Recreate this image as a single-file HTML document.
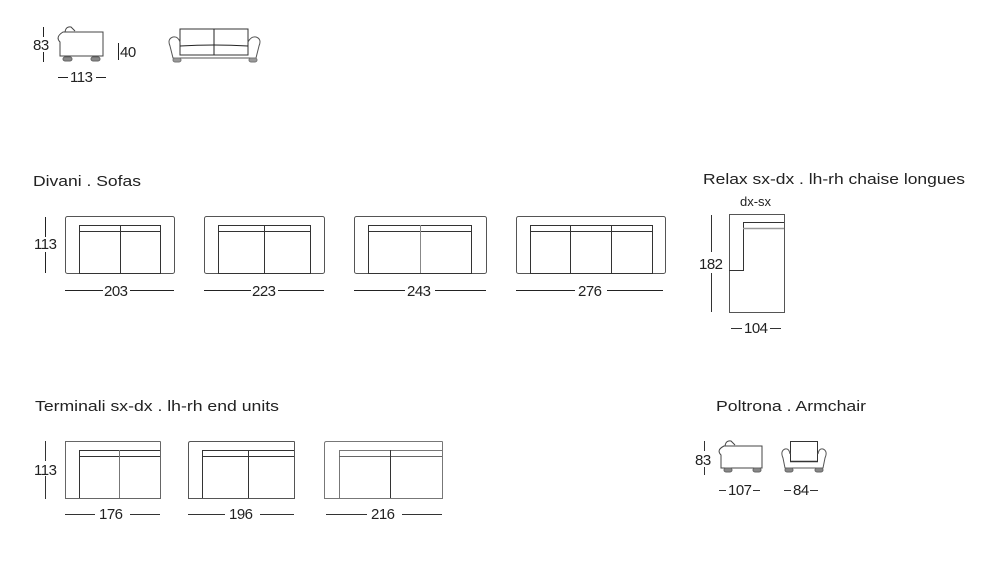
<!DOCTYPE html>
<html><head><meta charset="utf-8"><style>
html,body{margin:0;padding:0;background:#fff;}
svg{display:block;font-family:"Liberation Sans",sans-serif;}
</style></head><body>
<svg width="995" height="580" viewBox="0 0 995 580" xmlns="http://www.w3.org/2000/svg">
<g fill="#222" font-size="15">
<text x="33" y="186" textLength="108" lengthAdjust="spacingAndGlyphs">Divani . Sofas</text>
<text x="703" y="184" textLength="262" lengthAdjust="spacingAndGlyphs">Relax sx-dx . lh-rh chaise longues</text>
<text x="35" y="411" textLength="244" lengthAdjust="spacingAndGlyphs">Terminali sx-dx . lh-rh end units</text>
<text x="716" y="411" textLength="150" lengthAdjust="spacingAndGlyphs">Poltrona . Armchair</text>
</g>
<g fill="#222" font-size="15" letter-spacing="-0.5">
<text x="33" y="50">83</text>
<text x="120" y="57">40</text>
<text x="70" y="82">113</text>
<text x="34" y="249">113</text>
<text x="104" y="296">203</text>
<text x="252" y="296">223</text>
<text x="407" y="296">243</text>
<text x="578" y="296">276</text>
<text x="740" y="206" font-size="13" letter-spacing="0">dx-sx</text>
<text x="699" y="269">182</text>
<text x="744" y="333">104</text>
<text x="34" y="475">113</text>
<text x="99" y="519">176</text>
<text x="229" y="519">196</text>
<text x="371" y="519">216</text>
<text x="695" y="465">83</text>
<text x="728" y="495">107</text>
<text x="793" y="495">84</text>
</g>
<g stroke="#222" stroke-width="1" fill="none">
<line x1="43.5" y1="27" x2="43.5" y2="37"/><line x1="43.5" y1="52" x2="43.5" y2="62"/>
<line x1="118.5" y1="43" x2="118.5" y2="60"/>
<line x1="58" y1="77.5" x2="68" y2="77.5"/><line x1="96" y1="77.5" x2="106" y2="77.5"/>
<path d="M63 32 H103 V56 H60 V42 Q55 37 63 32 Z" stroke="#444"/>
<path d="M65 32 Q66 26 71 27 L75 31" stroke="#444"/>
<rect x="63" y="57" width="9" height="4" rx="2" fill="#888" stroke="#666"/>
<rect x="91" y="57" width="9" height="4" rx="2" fill="#888" stroke="#666"/>
<rect x="180" y="29" width="68" height="26" stroke="#333"/>
<line x1="214" y1="29" x2="214" y2="55"/>
<path d="M180 46 Q214 44 248 46" />
<path d="M180 42 Q178 36 173 37 Q167 39 170 46 L173 58 H256 L259 46 Q262 39 256 37 Q251 36 248 42" stroke="#555"/>
<rect x="173" y="58" width="8" height="4" rx="2" fill="#999" stroke="#777"/>
<rect x="249" y="58" width="8" height="4" rx="2" fill="#999" stroke="#777"/>
<line x1="45.5" y1="217" x2="45.5" y2="237"/><line x1="45.5" y1="252" x2="45.5" y2="273"/>
<line x1="65" y1="290.5" x2="103" y2="290.5"/><line x1="130" y1="290.5" x2="174" y2="290.5"/>
<line x1="204" y1="290.5" x2="251" y2="290.5"/><line x1="278" y1="290.5" x2="324" y2="290.5"/>
<line x1="354" y1="290.5" x2="405" y2="290.5"/><line x1="435" y1="290.5" x2="486" y2="290.5"/>
<line x1="516" y1="290.5" x2="575" y2="290.5"/><line x1="607" y1="290.5" x2="663" y2="290.5"/>
</g>
<g stroke="#333" stroke-width="1" fill="none">
<rect x="65.5" y="216.5" width="109" height="57" rx="2" stroke="#555"/>
<rect x="79.5" y="225.5" width="81" height="48"/><line x1="79" y1="231.5" x2="161" y2="231.5"/><line x1="120.5" y1="225" x2="120.5" y2="273"/>
<rect x="204.5" y="216.5" width="120" height="57" rx="2" stroke="#555"/>
<rect x="218.5" y="225.5" width="92" height="48"/><line x1="218" y1="231.5" x2="311" y2="231.5"/><line x1="264.5" y1="225" x2="264.5" y2="273"/>
<rect x="354.5" y="216.5" width="132" height="57" rx="2" stroke="#555"/>
<rect x="368.5" y="225.5" width="103" height="48"/><line x1="368" y1="231.5" x2="472" y2="231.5"/><line x1="420.5" y1="225" x2="420.5" y2="273" stroke="#888"/>
<rect x="516.5" y="216.5" width="149" height="57" rx="2" stroke="#555"/>
<rect x="530.5" y="225.5" width="122" height="48"/><line x1="530" y1="231.5" x2="653" y2="231.5"/><line x1="570.5" y1="225" x2="570.5" y2="273"/><line x1="611.5" y1="225" x2="611.5" y2="273"/>
<rect x="729.5" y="214.5" width="55" height="98" stroke="#555"/>
<path d="M784 222.5 H743.5 V270.5 H729"/>
<line x1="743" y1="228.5" x2="784" y2="228.5" stroke="#999" stroke-width="1.5"/>
<line x1="711.5" y1="215" x2="711.5" y2="252"/><line x1="711.5" y1="273" x2="711.5" y2="312"/>
<line x1="731" y1="328.5" x2="742" y2="328.5"/><line x1="770" y1="328.5" x2="781" y2="328.5"/>
<line x1="45.5" y1="441" x2="45.5" y2="461"/><line x1="45.5" y1="476" x2="45.5" y2="499"/>
<path d="M160.5 441.5 H65.5 V498.5 H160.5 V441.5" stroke="#666"/>
<path d="M160 450.5 H79.5 V498"/><line x1="79" y1="456.5" x2="160" y2="456.5"/><line x1="119.5" y1="450" x2="119.5" y2="498" stroke="#777"/>
<path d="M294.5 441.5 H190.5 Q188.5 441.5 188.5 443.5 V498.5 H294.5 V441.5" stroke="#555"/>
<path d="M294 450.5 H202.5 V498"/><line x1="202" y1="456.5" x2="294" y2="456.5"/><line x1="248.5" y1="450" x2="248.5" y2="498"/>
<path d="M442.5 441.5 H326.5 Q324.5 441.5 324.5 443.5 V498.5 H442.5 V441.5" stroke="#777"/>
<path d="M442 450.5 H339.5 V498" stroke="#777"/><line x1="339" y1="456.5" x2="442" y2="456.5" stroke="#666"/><line x1="390.5" y1="450" x2="390.5" y2="498"/>
<line x1="65" y1="514.5" x2="95" y2="514.5"/><line x1="130" y1="514.5" x2="160" y2="514.5"/>
<line x1="188" y1="514.5" x2="225" y2="514.5"/><line x1="260" y1="514.5" x2="294" y2="514.5"/>
<line x1="326" y1="514.5" x2="367" y2="514.5"/><line x1="402" y1="514.5" x2="442" y2="514.5"/>
<line x1="704.5" y1="441" x2="704.5" y2="451"/><line x1="704.5" y1="467" x2="704.5" y2="475"/>
<path d="M724 446 H762 V468 H721 V455 Q716 450 724 446 Z" stroke="#444"/>
<path d="M725 446 Q726 440 731 441 L735 445" stroke="#444"/>
<rect x="724" y="468" width="8" height="4" rx="2" fill="#888" stroke="#666"/>
<rect x="753" y="468" width="8" height="4" rx="2" fill="#888" stroke="#666"/>
<rect x="790.5" y="441.5" width="27" height="20"/>
<path d="M790 461.5 H818" stroke-width="1.5"/>
<path d="M790 454 Q789 448 785 449 Q780 451 783 458 L785 468 H823 L825 458 Q828 451 823 449 Q819 448 818 454" stroke="#555"/>
<rect x="785" y="468" width="8" height="4" rx="2" fill="#888" stroke="#666"/>
<rect x="815" y="468" width="8" height="4" rx="2" fill="#888" stroke="#666"/>
<line x1="719" y1="490.5" x2="726" y2="490.5"/><line x1="753" y1="490.5" x2="760" y2="490.5"/>
<line x1="784" y1="490.5" x2="791" y2="490.5"/><line x1="810" y1="490.5" x2="818" y2="490.5"/>
</g>
</svg>
</body></html>
